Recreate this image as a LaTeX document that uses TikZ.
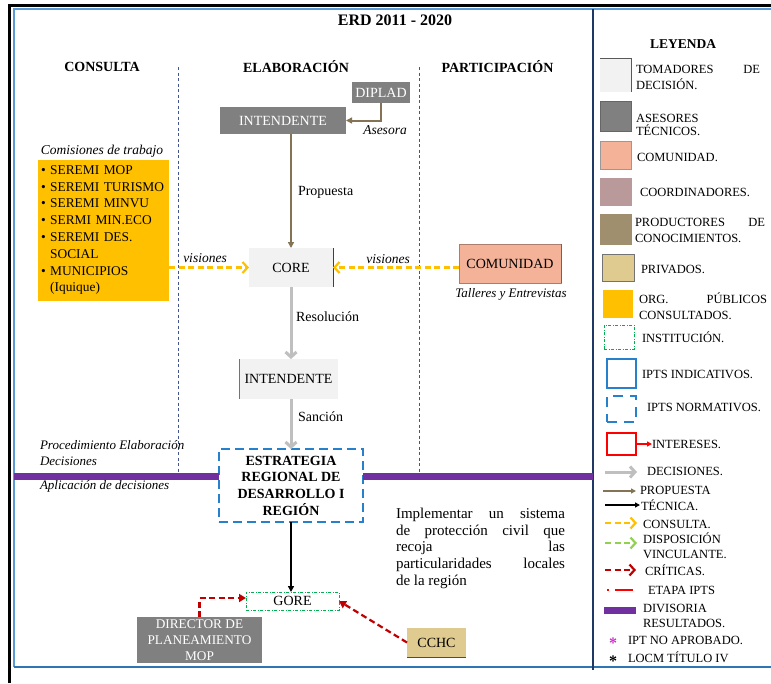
\documentclass[tikz,border=0pt]{standalone}
\usepackage{fontspec}
\setmainfont{Liberation Serif}
\usetikzlibrary{arrows.meta,calc}

\definecolor{tomador}{RGB}{242,242,242}
\definecolor{asesor}{RGB}{128,128,128}
\definecolor{comunidad}{RGB}{244,178,152}
\definecolor{coord}{RGB}{185,153,153}
\definecolor{productor}{RGB}{160,143,110}
\definecolor{privado}{RGB}{223,202,143}
\definecolor{orgpub}{RGB}{255,192,0}
\definecolor{instit}{RGB}{0,176,80}
\definecolor{ipts}{RGB}{38,128,204}
\definecolor{interes}{RGB}{255,0,0}
\definecolor{decis}{RGB}{191,191,191}
\definecolor{propu}{RGB}{132,115,85}
\definecolor{critic}{RGB}{192,0,0}
\definecolor{dispo}{RGB}{146,208,80}
\definecolor{divis}{RGB}{112,48,160}
\definecolor{navy}{RGB}{31,56,100}
\definecolor{frameblue}{RGB}{91,155,213}
\definecolor{framebottom}{RGB}{46,117,182}
\definecolor{colline}{RGB}{68,84,140}
\definecolor{noaprob}{RGB}{204,51,204}

\newcommand\fsz[2]{\fontsize{#1}{#2}\selectfont}
\newcommand\spreadline[2]{\hbox to #1{#2}}

\tikzset{
  every node/.style={inner sep=0pt, outer sep=0pt},
  titlefont/.style={font=\bfseries\fsz{16}{19}},
  heading/.style={font=\bfseries\fsz{14}{17}},
  boxtxt/.style={font=\fsz{14}{16.5}},
  note/.style={font=\itshape\fsz{13.5}{16}},
  flowlbl/.style={font=\fsz{14}{16}},
  legtxt/.style={font=\fsz{12.5}{15.5}, anchor=west, align=left},
  darkbox/.style={fill=asesor, text=white, boxtxt},
  lightbox/.style={fill=tomador, boxtxt},
  decision/.style={draw=decis, line width=3pt, -{Straight Barb[length=5pt,width=11pt]}},
  proposal/.style={draw=propu, line width=2pt, -{Triangle[length=6pt,width=6pt]}},
  technical/.style={draw=black, line width=2pt, -{Triangle[length=6pt,width=6pt]}},
  consult/.style={draw=orgpub, line width=2.2pt, dash pattern=on 6pt off 3.5pt, -{Straight Barb[length=5pt,width=11pt]}},
  binding/.style={draw=dispo, line width=2.2pt, dash pattern=on 6pt off 3.5pt, -{Straight Barb[length=5pt,width=11pt]}},
  critique/.style={draw=critic, line width=2.2pt, dash pattern=on 6pt off 3.5pt, -{Triangle[length=7pt,width=8pt]}},
  critiquelg/.style={draw=critic, line width=2.2pt, dash pattern=on 6pt off 3.5pt, -{Straight Barb[length=5pt,width=11pt]}},
  colsep/.style={draw=colline, line width=1pt, dash pattern=on 3pt off 2.5pt},
  divider/.style={draw=divis, line width=7pt},
}

\begin{document}
\begin{tikzpicture}[x=1pt,y=-1pt]
\fill[white] (0,0) rectangle (771,683);
\useasboundingbox (0,0) rectangle (771,683);

% ---- frame ----
\draw[black, line width=3pt] (9,683) -- (9,5) -- (771,5);
\draw[frameblue, line width=1.6pt] (14,667) -- (14,9) -- (771,9);
\draw[framebottom, line width=2pt] (14,667) -- (771,667);
\draw[navy, line width=2.5pt] (593,9) -- (593,670);

% ---- column separators ----
\coordinate (sepAtop) at (178,67);
\coordinate (sepAbot) at (178,478);
\coordinate (sepBtop) at (419,67);
\coordinate (sepBbot) at (419,478);
\draw[colsep] (sepAtop) -- (sepAbot);
\draw[colsep] (sepBtop) -- (sepBbot);

% ---- titles ----
\node[titlefont] (titulo) at (395,20) {ERD 2011 - 2020};
\node[heading] (hcons) at (102,67) {CONSULTA};
\node[heading] (helab) at (296,67) {ELABORACIÓN};
\node[heading] (hpart) at (497.5,67) {PARTICIPACIÓN};

% ---- elaboration column ----
\node[darkbox, minimum width=58pt, minimum height=21pt] (diplad) at (381,92.5) {DIPLAD};
\node[darkbox, minimum width=126pt, minimum height=27pt] (int1) at (283,120.5) {INTENDENTE};
\node[note] (asesora) at (385,130) {Asesora};

\node[lightbox, minimum width=84pt, minimum height=39pt] (core) at (291,267.5) {CORE};
\draw[black!75, line width=0.8pt] (core.north east) -- (core.south east);

\node[lightbox, minimum width=99pt, minimum height=40pt] (int2) at (288.5,379) {INTENDENTE};
\draw[black!55, line width=0.8pt] (int2.north west) -- (int2.south west);

\node[draw=ipts, line width=2pt, dash pattern=on 9pt off 5pt, minimum width=144pt, minimum height=73pt,
      font=\bfseries\fsz{14}{16.7}, align=center] (erd) at (291,485.5)
      {ESTRATEGIA\\REGIONAL DE\\DESARROLLO I\\REGIÓN};

\node[draw=instit, line width=0.8pt, dash pattern=on 3pt off 1.5pt on 1pt off 1.5pt,
      minimum width=93pt, minimum height=18pt, boxtxt] (gore) at (292.5,601) {GORE};

\node[darkbox, minimum width=125pt, minimum height=46pt, font=\fsz{13.3}{16}, align=center]
      (director) at (199.5,640) {DIRECTOR DE\\PLANEAMIENTO\\MOP};
\node[fill=privado, minimum width=59pt, minimum height=29pt, boxtxt] (cchc) at (436.5,642.5) {CCHC};
\draw[black!70, line width=0.8pt] (cchc.south west) -- (cchc.south east);

% ---- consultation column ----
\node[note] (comis) at (102,151) {Comisiones de trabajo};
\node[fill=orgpub, minimum width=131pt, minimum height=141pt, text width=125pt, align=left,
      font=\fsz{13.4}{16.8}] (seremi) at (103.5,230)
      {\textbullet\ SEREMI MOP\\
       \textbullet\ SEREMI TURISMO\\
       \textbullet\ SEREMI MINVU\\
       \textbullet\ SERMI MIN.ECO\\
       \textbullet\ SEREMI DES.\\
       \hphantom{\textbullet\ }SOCIAL\\
       \textbullet\ MUNICIPIOS\\
       \hphantom{\textbullet\ }(Iquique)};

% ---- participation column ----
\node[fill=comunidad, draw=comunidad!70!black, line width=0.5pt, minimum width=102pt, minimum height=39pt, boxtxt]
      (comu) at (510,263.5) {COMUNIDAD};
\draw[black!60, line width=0.8pt] (comu.north east) -- (comu.south east);
\node[note, font=\itshape\fsz{13}{15}] (talleres) at (511,294) {Talleres y Entrevistas};

% ---- result divider ----
\coordinate (bandL) at (14,476.5);
\coordinate (bandR) at (593,476.5);
\draw[divider] (bandL) -- (bandL -| erd.west);
\draw[divider] (erd.east |- bandR) -- (bandR);
\node[note, anchor=west, align=left, font=\itshape\fsz{13}{16}] (proc) at (40,453.5)
      {Procedimiento Elaboración\\Decisiones};
\node[note, anchor=west, font=\itshape\fsz{13}{16}] (aplic) at (40,486.5) {Aplicación de decisiones};

% ---- connectors ----
\draw[proposal] (diplad.south) |- (int1.east);
\draw[proposal] (int1.south -| core.north) -- (core.north);
\node[flowlbl, anchor=west] (lprop) at (298,192) {Propuesta};

\draw[consult] (seremi.east |- core.west) -- (core.west);
\node[note] (vis1) at (205,258) {visiones};
\draw[consult] (comu.west |- core.east) -- (core.east);
\node[note] (vis2) at (388,259) {visiones};

\draw[decision] (core.south) -- (core.south |- int2.north);
\node[flowlbl, anchor=west] (lres) at (296,317) {Resolución};
\draw[decision] (core.south |- int2.south) -- (core.south |- erd.north);
\node[flowlbl, anchor=west] (lsan) at (298,417) {Sanción};

\draw[technical] (erd.south) -- (erd.south |- gore.north);
\draw[critique] (director.north) |- ($(gore.west)+(0,-3)$);
\draw[critique] (cchc.west) -- (gore.east);

% ---- goal text (justified lines) ----
\node[font=\fsz{15}{16.7}, anchor=north west, align=left] (meta) at (396,508)
  {\spreadline{169pt}{Implementar\hfill un\hfill sistema}\\
   \spreadline{169pt}{de\hfill protección\hfill civil\hfill que}\\
   \spreadline{169pt}{recoja\hfill las}\\
   \spreadline{169pt}{particularidades\hfill locales}\\
   de la región};

% ---- legend ----
\node[heading, font=\bfseries\fsz{13.5}{16}] (leyenda) at (683,44) {LEYENDA};

\node[fill=tomador, minimum width=31pt, minimum height=34pt] (lgtom) at (615.5,75) {};
\draw[black!65, line width=0.8pt] (lgtom.north west) -- (lgtom.north east) -- (lgtom.south east);
\node[legtxt] (lgtomt) at (636,77.5) {\spreadline{124pt}{TOMADORES\hfill DE}\\DECISIÓN.};

\node[fill=asesor, draw=black!60, line width=0.6pt, minimum width=31pt, minimum height=30pt] (lgase) at (615.5,116) {};
\node[legtxt, font=\fsz{12.5}{13}] (lgaset) at (636,124.5) {ASESORES\\TÉCNICOS.};

\node[fill=comunidad, draw=black!40, line width=0.5pt, minimum width=31pt, minimum height=28pt] (lgcom) at (615.5,155) {};
\node[legtxt] (lgcomt) at (637,157) {COMUNIDAD.};

\node[fill=coord, minimum width=32pt, minimum height=28pt] (lgcoo) at (616,192) {};
\node[legtxt] (lgcoot) at (640,192) {COORDINADORES.};

\node[fill=productor, minimum width=32pt, minimum height=31pt] (lgpro) at (616,229.5) {};
\node[legtxt, font=\fsz{12.5}{16}] (lgprot) at (635,230) {\spreadline{130pt}{PRODUCTORES\hfill DE}\\CONOCIMIENTOS.};

\node[fill=privado, draw=black!55, line width=0.6pt, minimum width=32pt, minimum height=27pt] (lgpri) at (618,267.5) {};
\node[legtxt] (lgprit) at (641,269) {PRIVADOS.};

\node[fill=orgpub, minimum width=30pt, minimum height=28pt] (lgorg) at (618,304) {};
\node[legtxt, font=\fsz{12.5}{16}] (lgorgt) at (639,306) {\spreadline{128pt}{ORG.\hfill PÚBLICOS}\\CONSULTADOS.};

\node[draw=instit, line width=0.6pt, dash pattern=on 3pt off 1.5pt on 1pt off 1.5pt, minimum width=30pt, minimum height=24pt] (lgins) at (619,337) {};
\node[legtxt] (lginst) at (642,337) {INSTITUCIÓN.};

\node[draw=ipts, line width=1.6pt, minimum width=29pt, minimum height=29pt] (lgind) at (621.5,373.5) {};
\node[legtxt] (lgindt) at (642,374) {IPTS INDICATIVOS.};

\node[draw=ipts, line width=1.6pt, dash pattern=on 10pt off 7pt, minimum width=29pt, minimum height=26pt] (lgnor) at (621.5,409) {};
\node[legtxt] (lgnort) at (647,407) {IPTS NORMATIVOS.};

\node[draw=interes, line width=1.4pt, minimum width=29pt, minimum height=22pt] (lgint) at (621.5,444) {};
\node[legtxt] (lgintt) at (652,444) {INTERESES.};
\draw[interes, line width=1.4pt, -{Triangle[length=5pt,width=5pt]}] (lgint.east) -- (lgintt.west);

\coordinate (adecA) at (605,472);  \coordinate (adecB) at (637,472);
\draw[decision] (adecA) -- (adecB);
\node[legtxt] (lgdect) at (647,471) {DECISIONES.};

\coordinate (apropA) at (603,491); \coordinate (apropB) at (636,491);
\draw[proposal, line width=1.6pt, -{Triangle[length=5pt,width=5pt]}] (apropA) -- (apropB);
\node[legtxt] (lgpropt) at (640,490) {PROPUESTA};

\coordinate (atecA) at (605,505); \coordinate (atecB) at (640,505);
\draw[technical, line width=1.6pt, -{Triangle[length=5pt,width=5pt]}] (atecA) -- (atecB);
\node[legtxt] (lgtect) at (641,505) {TÉCNICA.};

\coordinate (aconA) at (605,523); \coordinate (aconB) at (637,523);
\draw[consult] (aconA) -- (aconB);
\node[legtxt] (lgcont) at (643,524) {CONSULTA.};

\coordinate (adisA) at (605,543); \coordinate (adisB) at (637,543);
\draw[binding] (adisA) -- (adisB);
\node[legtxt, font=\fsz{12.5}{15}] (lgdist) at (643,545.5) {DISPOSICIÓN\\VINCULANTE.};

\coordinate (acriA) at (605,570); \coordinate (acriB) at (636,570);
\draw[critiquelg] (acriA) -- (acriB);
\node[legtxt] (lgcrit) at (645,570) {CRÍTICAS.};

\coordinate (aetaA) at (607,590); \coordinate (aetaB) at (633,590);
\draw[interes, line width=1.5pt, dash pattern=on 1.5pt off 6pt on 18pt off 4pt] (aetaA) -- (aetaB);
\node[legtxt] (lgetat) at (648,590) {ETAPA IPTS};

\coordinate (adivA) at (604,610); \coordinate (adivB) at (636,610);
\draw[divider] (adivA) -- (adivB);
\node[legtxt, font=\fsz{12.5}{15}] (lgdivt) at (643,615.5) {DIVISORIA\\RESULTADOS.};

\node[text=noaprob, font=\bfseries\fsz{16}{16}] (lgast1) at (613,643) {*};
\node[legtxt] (lgast1t) at (628,640) {IPT NO APROBADO.};
\node[text=black, font=\bfseries\fsz{16}{16}] (lgast2) at (613,661) {*};
\node[legtxt] (lgast2t) at (628,657) {LOCM TÍTULO IV};
\end{tikzpicture}
\end{document}
